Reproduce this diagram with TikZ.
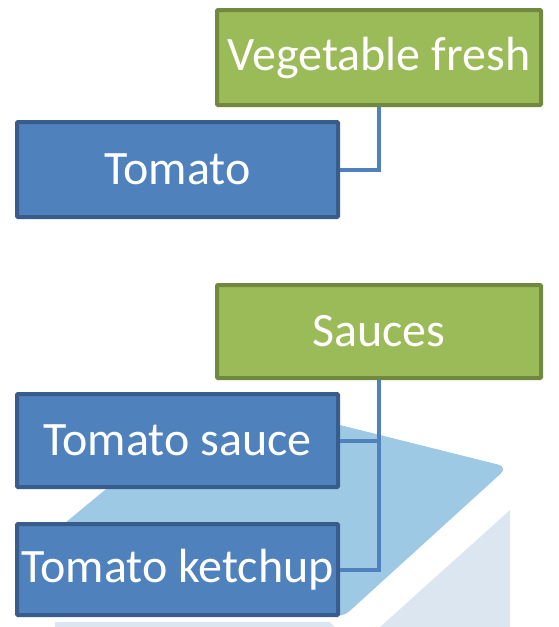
\documentclass[tikz,border=0pt]{standalone}
\usepackage{fontspec}
\setmainfont{Carlito}
\definecolor{grfill}{HTML}{9BBB59}
\definecolor{grline}{HTML}{71893F}
\definecolor{blfill}{HTML}{4F81BD}
\definecolor{blline}{HTML}{385D8A}
\definecolor{bglight}{HTML}{9DC9E5}
\definecolor{bgpale}{HTML}{DBE6F1}
\tikzset{
  greenbox/.style={draw=grline, fill=grfill, line width=4pt, rounded corners=1pt, text=white, font=\fontsize{48}{52}\selectfont, inner sep=0pt},
  bluebox/.style={draw=blline, fill=blfill, line width=4pt, rounded corners=1pt, text=white, font=\fontsize{48}{52}\selectfont, inner sep=0pt},
  link/.style={draw=blfill, line width=4pt}
}
\begin{document}
\begin{tikzpicture}[x=1pt,y=-1pt]
\useasboundingbox (0,0) rectangle (559,627);
% background decoration
\fill[bgpale] (510,510) -- (510,627) -- (380,627) -- cycle;
\fill[bgpale] (55,627) -- (55,622) -- (330,622) -- (335,627) -- cycle;
\fill[bglight, rounded corners=10pt] (220,395) -- (508,467) -- (342,618) -- (42,542) -- cycle;
% nodes
\node[greenbox, minimum width=324pt, minimum height=95pt] (veg) at (379,57.5) {Vegetable fresh};
\node[bluebox, minimum width=321pt, minimum height=95pt] (tom) at (177.5,169.5) {Tomato};
\node[greenbox, minimum width=324pt, minimum height=93pt] (sau) at (379,331.5) {Sauces};
\node[bluebox, minimum width=321pt, minimum height=93pt] (ts) at (177.5,440.5) {Tomato sauce};
\node[bluebox, minimum width=321pt, minimum height=91pt] (tk) at (177.5,569.5) {Tomato ketchup};
% connectors
\draw[link] (veg.south) |- (tom.east);
\draw[link] (sau.south) |- (ts.east);
\draw[link] (sau.south) |- (tk.east);
\end{tikzpicture}
\end{document}
